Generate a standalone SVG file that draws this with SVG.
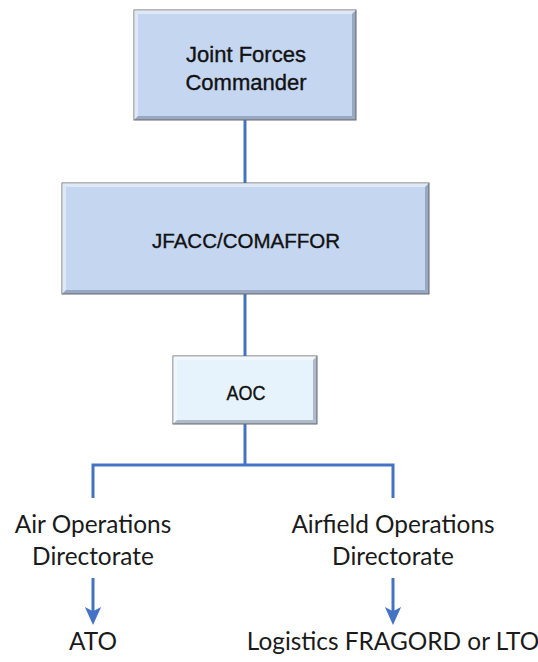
<svg xmlns="http://www.w3.org/2000/svg" width="538" height="662" viewBox="0 0 538 662">
<defs>
<style>
.box{stroke:#6b6b6b;stroke-width:1}
.hi{fill:#ffffff;opacity:0.45}
.sh{fill:#44546a;opacity:0.35}
.lbl{font-family:"Liberation Sans",Arial,sans-serif;fill:#111;text-anchor:middle;stroke:#111;stroke-width:0.35}
.txt{font-family:Lato,"Open Sans",sans-serif;font-size:24.4px;fill:#1a1a1a;text-anchor:middle}
.con{stroke:#4472C4;stroke-width:3;fill:none}
</style>
<marker id="ah" markerWidth="6" markerHeight="6" refX="3" refY="3" orient="auto" markerUnits="strokeWidth" viewBox="0 0 6 6">
<path d="M0,0.3 L6,3 L0,5.7 L1.4,3 Z" fill="#4472C4"/>
</marker>
</defs>
<g id="connectors">
<path class="con" d="M245,120 V183"/>
<path class="con" d="M245,294 V356"/>
<path class="con" d="M245,424 V465"/>
<path class="con" d="M93,498 V465 H393 V498"/>
<path class="con" d="M93,578 V616" marker-end="url(#ah)"/>
<path class="con" d="M393,578 V616" marker-end="url(#ah)"/>
</g>
<g id="jfc">
<rect class="box" x="134" y="10" width="222" height="110" fill="#C5D6F0"/>
<polygon class="hi" points="134,10 356,10 352,14 138,14"/>
<polygon class="hi" points="134,10 138,14 138,116 134,120"/>
<polygon class="sh" points="134,120 356,120 352,116 138,116"/>
<polygon class="sh" points="356,10 356,120 352,116 352,14"/>
<text class="lbl" x="246" y="62" font-size="22">Joint Forces</text>
<text class="lbl" x="246" y="90" font-size="22">Commander</text>
</g>
<g id="jfacc">
<rect class="box" x="62" y="183" width="367" height="111" fill="#C5D6F0"/>
<polygon class="hi" points="62,183 429,183 425,187 66,187"/>
<polygon class="hi" points="62,183 66,187 66,290 62,294"/>
<polygon class="sh" points="62,294 429,294 425,290 66,290"/>
<polygon class="sh" points="429,183 429,294 425,290 425,187"/>
<text class="lbl" x="246" y="248" font-size="20.5">JFACC/COMAFFOR</text>
</g>
<g id="aoc">
<rect class="box" x="173" y="356" width="144" height="68" fill="#E6F3FC"/>
<polygon class="hi" points="173,356 317,356 313,360 177,360"/>
<polygon class="hi" points="173,356 177,360 177,420 173,424"/>
<polygon class="sh" points="173,424 317,424 313,420 177,420"/>
<polygon class="sh" points="317,356 317,424 313,420 313,360"/>
<text class="lbl" x="246" y="400" font-size="20" textLength="39" lengthAdjust="spacingAndGlyphs">AOC</text>
</g>
<g id="airops">
<text class="txt" x="93" y="533">Air Operations</text>
<text class="txt" x="93" y="565">Directorate</text>
</g>
<g id="airfield">
<text class="txt" x="393" y="533">Airfield Operations</text>
<text class="txt" x="393" y="565">Directorate</text>
</g>
<g id="ato">
<text class="txt" x="93" y="650">ATO</text>
</g>
<g id="logistics">
<text class="txt" x="393" y="650">Logistics FRAGORD or LTO</text>
</g>
</svg>
